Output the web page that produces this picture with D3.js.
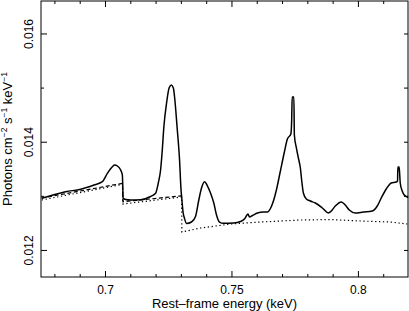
<!DOCTYPE html>
<html>
<head>
<meta charset="utf-8">
<script src="https://cdn.jsdelivr.net/npm/d3@7"></script>
<style>
  body { margin: 0; background: #fff; }
  svg { display: block; font-family: "Liberation Sans", Arial, sans-serif; }
</style>
</head>
<body>
<div id="chart"></div>
<script>
// total model (solid)
const solidEnergy = [0.67500, 0.67855, 0.68447, 0.69040, 0.69565, 0.69896, 0.70094, 0.70291, 0.70382, 0.70489,
  0.70619, 0.70686, 0.70702, 0.70714, 0.70816, 0.71014, 0.71408, 0.71803, 0.72001, 0.72107,
  0.72198, 0.72265, 0.72328, 0.72435, 0.72534, 0.72620, 0.72703, 0.72763, 0.72850, 0.72948,
  0.73007, 0.73035, 0.73086, 0.73145, 0.73224, 0.73421, 0.73579, 0.73709, 0.73816, 0.73935,
  0.74053, 0.74172, 0.74302, 0.74409, 0.74527, 0.74685, 0.75080, 0.75356, 0.75514, 0.75613,
  0.75653, 0.75712, 0.75830, 0.76028, 0.76264, 0.76422, 0.76541, 0.76659, 0.76777, 0.76935,
  0.77093, 0.77211, 0.77349, 0.77381, 0.77401, 0.77468, 0.77487, 0.77567, 0.77646, 0.77725,
  0.77784, 0.77843, 0.77962, 0.78119, 0.78316, 0.78593, 0.78830, 0.78948, 0.79106, 0.79343,
  0.79501, 0.79659, 0.79896, 0.80212, 0.80567, 0.80765, 0.80923, 0.81120, 0.81317, 0.81515,
  0.81567, 0.81579, 0.81626, 0.81646, 0.81673, 0.81752, 0.81831, 0.81989];
const solidFlux = [0.012954, 0.013002, 0.013076, 0.013121, 0.013200, 0.013261, 0.013416, 0.013538, 0.013570, 0.013551,
  0.013477, 0.013385, 0.013200, 0.012960, 0.012932, 0.012923, 0.012928, 0.012987, 0.013047, 0.013237,
  0.013477, 0.013847, 0.014277, 0.014715, 0.014992, 0.015048, 0.014992, 0.014771, 0.014272, 0.013662,
  0.013108, 0.012960, 0.012701, 0.012581, 0.012489, 0.012516, 0.012618, 0.012923, 0.013145, 0.013261,
  0.013181, 0.013052, 0.012867, 0.012646, 0.012516, 0.012492, 0.012498, 0.012526, 0.012572, 0.012646,
  0.012664, 0.012609, 0.012636, 0.012683, 0.012701, 0.012701, 0.012766, 0.012904, 0.013108, 0.013459,
  0.013810, 0.014050, 0.014142, 0.014401, 0.014826, 0.014826, 0.014124, 0.013884, 0.013699, 0.013514,
  0.013255, 0.013052, 0.012941, 0.012904, 0.012867, 0.012775, 0.012683, 0.012720, 0.012812, 0.012886,
  0.012830, 0.012738, 0.012683, 0.012701, 0.012720, 0.012812, 0.012960, 0.013126, 0.013237, 0.013255,
  0.013274, 0.013533, 0.013533, 0.013440, 0.013237, 0.013089, 0.013015, 0.012969];

// continuum, dashed
const dashedEnergy = [0.67500, 0.70690, 0.70710, 0.73030];
const dashedFlux = [0.012960, 0.013231, 0.012891, 0.013000];

// continuum, dotted
const dottedEnergy = [0.67500, 0.70690, 0.70710, 0.73030, 0.73040, 0.73780, 0.74960, 0.76150, 0.77720, 0.78910, 0.80090, 0.81280, 0.81950];
const dottedFlux = [0.012923, 0.013213, 0.012849, 0.012978, 0.012332, 0.012405, 0.012479, 0.012516, 0.012553, 0.012562, 0.012535, 0.012516, 0.012479];

const xMajor = [0.70, 0.75, 0.80];
const xMinor = [0.68, 0.69, 0.71, 0.72, 0.73, 0.74, 0.76, 0.77, 0.78, 0.79, 0.81];
const yMajor = [0.012, 0.014, 0.016];
const yMinor = [0.013, 0.015];

const W = 409, H = 311;
const plot = {left: 41, right: 408, top: 1, bottom: 277};

const svg = d3.select("#chart").append("svg")
    .attr("width", W)
    .attr("height", H);

const x = d3.scaleLinear().domain([0.6747, 0.8198]).range([plot.left, plot.right]);
const y = d3.scaleLinear().domain([0.0115, 0.0166]).range([plot.bottom, plot.top]);

// inward ticks on all four sides
function ticks(gen, vals, size, fmt) {
    return gen.tickValues(vals).tickSize(-size).tickFormat(fmt || "");
}

const gB = svg.append("g").attr("transform", "translate(0," + plot.bottom + ")");
gB.call(ticks(d3.axisBottom(x), xMajor, 6, d3.format(".2~f")).tickPadding(8.5));
gB.append("g").call(ticks(d3.axisBottom(x), xMinor, 3));

const gT = svg.append("g").attr("transform", "translate(0," + plot.top + ")");
gT.call(ticks(d3.axisTop(x), xMajor, 6));
gT.append("g").call(ticks(d3.axisTop(x), xMinor, 3));

const gL = svg.append("g").attr("transform", "translate(" + plot.left + ",0)");
gL.call(ticks(d3.axisLeft(y), yMajor, 6, d3.format(".3f")));
gL.append("g").call(ticks(d3.axisLeft(y), yMinor, 3));

const gR = svg.append("g").attr("transform", "translate(" + plot.right + ",0)");
gR.call(ticks(d3.axisRight(y), yMajor.concat(yMinor), 4));

svg.selectAll(".domain").remove();
svg.selectAll(".tick line").attr("stroke", "#000").attr("stroke-width", 1);
svg.selectAll(".tick text").attr("fill", "#000").style("font-size", "12px");

// y tick labels are vertical
gL.selectAll(".tick text")
    .attr("x", null).attr("dy", null)
    .attr("text-anchor", "middle")
    .attr("transform", "translate(-8,0) rotate(-90)");

svg.append("rect")
    .attr("x", plot.left).attr("y", plot.top)
    .attr("width", plot.right - plot.left)
    .attr("height", plot.bottom - plot.top)
    .attr("fill", "none")
    .attr("stroke", "#000")
    .attr("stroke-width", 1);

const line = d3.line()
    .x(d => x(d[0]))
    .y(d => y(d[1]))
    .curve(d3.curveMonotoneX);

const lineStraight = d3.line()
    .x(d => x(d[0]))
    .y(d => y(d[1]));

svg.append("path")
    .datum(d3.zip(dottedEnergy, dottedFlux))
    .attr("fill", "none")
    .attr("stroke", "#000")
    .attr("stroke-width", 1.2)
    .attr("stroke-dasharray", "1.3,2.6")
    .attr("d", lineStraight);

svg.append("path")
    .datum(d3.zip(dashedEnergy, dashedFlux))
    .attr("fill", "none")
    .attr("stroke", "#000")
    .attr("stroke-width", 1.2)
    .attr("stroke-dasharray", "4,2.5")
    .attr("d", lineStraight);

svg.append("path")
    .datum(d3.zip(solidEnergy, solidFlux))
    .attr("fill", "none")
    .attr("stroke", "#000")
    .attr("stroke-width", 1.5)
    .attr("stroke-linejoin", "round")
    .attr("d", line);

// axis titles
svg.append("text")
    .attr("x", (plot.left + plot.right) / 2)
    .attr("y", 308)
    .attr("text-anchor", "middle")
    .style("font-size", "13px")
    .text("Rest\u2013frame energy (keV)");

const yl = svg.append("text")
    .attr("transform", "translate(12," + (plot.top + plot.bottom) / 2 + ") rotate(-90)")
    .attr("text-anchor", "middle")
    .style("font-size", "13px");
yl.append("tspan").text("Photons cm");
yl.append("tspan").attr("dy", -5).style("font-size", "8.5px").text("\u22122");
yl.append("tspan").attr("dy", 5).text(" s");
yl.append("tspan").attr("dy", -5).style("font-size", "8.5px").text("\u22121");
yl.append("tspan").attr("dy", 5).text(" keV");
yl.append("tspan").attr("dy", -5).style("font-size", "8.5px").text("\u22121");
</script>
</body>
</html>
